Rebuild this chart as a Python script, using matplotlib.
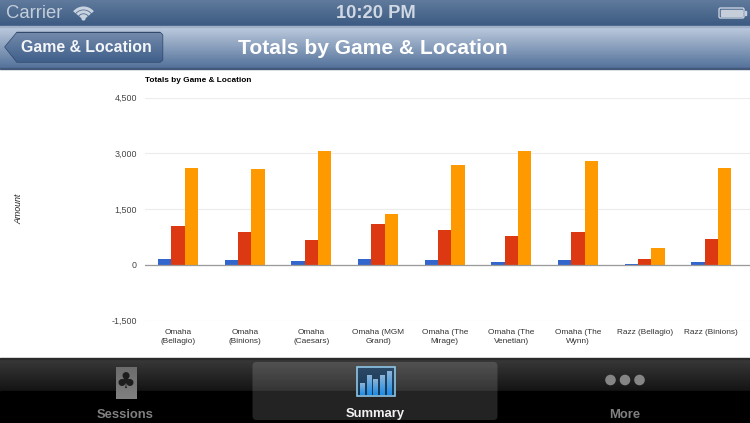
import numpy as np
import matplotlib
matplotlib.use("Agg")
import matplotlib.pyplot as plt
from matplotlib.patches import FancyBboxPatch, Rectangle, Polygon, Circle, Arc
from matplotlib.colors import LinearSegmentedColormap

categories = ["Omaha\n(Bellagio)", "Omaha\n(Binions)", "Omaha\n(Caesars)", "Omaha (MGM\nGrand)",
              "Omaha (The\nMirage)", "Omaha (The\nVenetian)", "Omaha (The\nWynn)",
              "Razz (Bellagio)", "Razz (Binions)"]
series_blue = [153, 117, 98, 161, 135, 81, 126, 15, 72]
series_red = [1031, 870, 664, 1095, 924, 763, 870, 161, 691]
series_orange = [2600, 2565, 3060, 1355, 2683, 3060, 2790, 458, 2592]
y_ticks = [-1500, 0, 1500, 3000, 4500]
chart_title = "Totals by Game & Location"
y_title = "Amount"

plt.rcParams['font.family'] = ['Liberation Sans', 'DejaVu Sans']
W, H = 750, 423
fig = plt.figure(figsize=(W/100, H/100), dpi=100, facecolor='white')

bg = fig.add_axes([0, 0, 1, 1], zorder=0)
bg.set_axis_off()

def grad(y0, y1, c0, c1, x0=0, x1=W, z=1):
    cm = LinearSegmentedColormap.from_list('g', [c0, c1])
    return bg.imshow(np.linspace(0, 1, 64)[:, None], cmap=cm, aspect='auto',
                     extent=[x0, x1, y1, y0], interpolation='bilinear', zorder=z)

# status bar
grad(0, 26, '#5f7a9c', '#3c5a82')
bg.add_patch(Rectangle((0, 26), W, 1.2, color='#9fb0c8', zorder=2))
# navigation bar
grad(27, 68, '#bccadd', '#54729b')
bg.add_patch(Rectangle((0, 68), W, 1, color='#44587a', zorder=2))
# tab bar
grad(358, 391, '#3a3a3a', '#141414')
bg.add_patch(Rectangle((0, 391), W, 32, color='#000000', zorder=2))
bg.add_patch(Rectangle((0, 358), W, 1.5, color='#2a2a2a', zorder=2))
bg.add_patch(FancyBboxPatch((252.5, 362), 245, 58, boxstyle='round,pad=0,rounding_size=4',
                            fc='#ffffff', alpha=0.14, ec='none', zorder=3))

# status items
bg.text(6, 13.5, "Carrier", color='#c4cedb', fontsize=13.3, va='center', ha='left', zorder=5)
bg.text(375.5, 13.5, "10:20 PM", color='#d0d8e3', fontsize=13.2, fontweight='bold', va='center', ha='center', zorder=5)
for r, lw in [(15.5, 2.2), (10.5, 2.2), (5.5, 2.2)]:
    bg.add_patch(Arc((83.5, 20), r*1.55, r*1.55, theta1=220, theta2=320, color='#c9d3df', lw=lw, zorder=5))
bg.add_patch(Circle((83.5, 18.5), 1.4, color='#c9d3df', zorder=5))
bg.add_patch(FancyBboxPatch((719, 8), 25, 10, boxstyle='round,pad=0,rounding_size=1.5',
                            fc='none', ec='#c6d0de', lw=1, zorder=5))
bg.add_patch(Rectangle((721, 10), 21, 6.5, color='#c6ced9', zorder=5))
bg.add_patch(Rectangle((744.5, 11), 1.6, 4, color='#c6d0de', zorder=5))

# back button
btn = Polygon([(5, 47), (17, 32.5), (160, 32.5), (162.5, 35), (162.5, 60), (160, 62), (17, 62)], closed=True,
              fc='#4b6a94', ec='#33496b', lw=1, zorder=4, joinstyle='round')
bg.add_patch(btn)
im = grad(33, 62, '#7289aa', '#3f5f8a', 5, 163, 4.5)
im.set_clip_path(btn)
bg.text(86.5, 47, "Game & Location", color='#f4f6f9', fontsize=11.4, fontweight='bold', va='center', ha='center', zorder=6)
bg.text(373, 48, "Totals by Game & Location", color='white', fontsize=15.1, fontweight='bold', va='center', ha='center', zorder=6)

# tab items
grad(367, 399, '#6c6c6c', '#808080', 115.5, 136, 5)
bg.text(125.5, 383, "\u2663", color='#1d1d1d', fontsize=16, family=['DejaVu Sans'], va='center', ha='center', zorder=6)
bg.text(125, 414.5, "Sessions", color='#808080', fontsize=9.4, fontweight='bold', va='center', ha='center', zorder=6)
bg.text(375, 414.5, "Summary", color='#f2f2f2', fontsize=9.4, fontweight='bold', va='center', ha='center', zorder=6)
bg.text(625, 414.5, "More", color='#808080', fontsize=9.4, fontweight='bold', va='center', ha='center', zorder=6)
for cx in (610.5, 625, 639.5):
    bg.add_patch(Circle((cx, 380), 4.6, color='#858585', zorder=6))
grad(367.5, 396.5, '#2c4a68', '#143552', 357, 395, 6)
bg.add_patch(Rectangle((357, 367.5), 38, 29, fc='none', ec='#8fc6e6', lw=1.2, zorder=6.5))
for i, top_px in enumerate([383.3, 375, 379, 375, 371]):
    grad(top_px, 395, '#8db4d8', '#1d8ce6', 360 + i*6.67, 365 + i*6.67, 7)
bg.set_xlim(0, W)
bg.set_ylim(H, 0)

# chart
left, right, top, bottom = 144.7, 750, 97.5, 320.5
ax = fig.add_axes([left/W, 1 - bottom/H, (right-left)/W, (bottom-top)/H], zorder=2)
ax.patch.set_alpha(0)
x = np.arange(len(categories))
w = 0.2
ax.bar(x - w, series_blue, w, color='#3366cc', zorder=3)
ax.bar(x, series_red, w, color='#dc3912', zorder=3)
ax.bar(x + w, series_orange, w, color='#ff9900', zorder=3)
ax.set_xlim(-0.5, len(categories) - 0.5 + 5.3 / 66.67)
ax.set_ylim(-1500, 4500)
ax.set_yticks(y_ticks)
ax.set_yticklabels([f"{v:,}" for v in y_ticks], fontsize=6.4, color='#444444')
ax.set_xticks(x)
ax.set_xticklabels(categories, fontsize=5.95, color='#333333', linespacing=1.42)
ax.tick_params(axis='both', length=0)
ax.tick_params(axis='y', pad=5.5)
ax.tick_params(axis='x', pad=6.2)
for s in ax.spines.values():
    s.set_visible(False)
ax.grid(axis='y', color='#ececec', lw=0.8, zorder=1)
ax.axhline(0, color='#9a9a9a', lw=0.9, zorder=4)
fig.text(145/W, 1 - 81/H, chart_title, fontsize=5.95, fontweight='bold', color='black', va='center', ha='left')
fig.text(18.5/W, 1 - 209/H, y_title, fontsize=6.4, style='italic', color='#222222', rotation=90, va='center', ha='center')

fig.savefig('out.png', dpi=100)
